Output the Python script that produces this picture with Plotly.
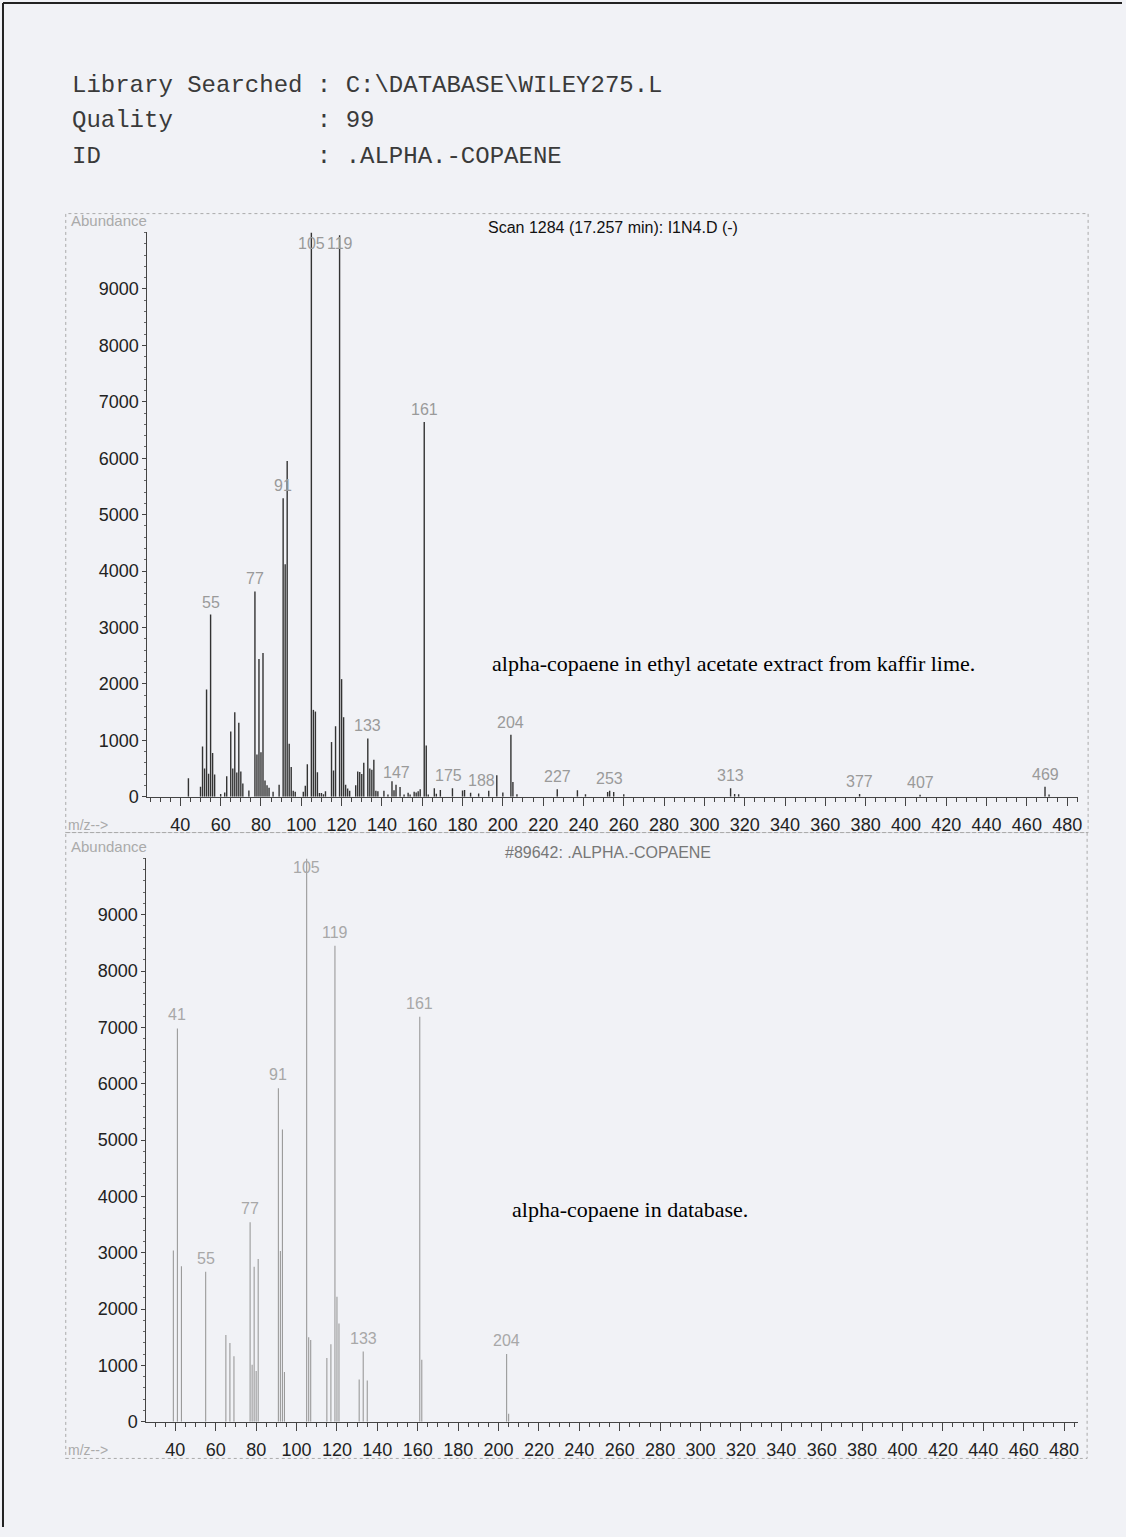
import plotly.graph_objects as go

W, H = 1126, 1537

# ---------------- data ----------------
sample_mz = [44, 50, 51, 52, 53, 54, 55, 56, 57, 60, 62, 63, 65, 66, 67, 68, 69, 70, 71, 74,
             77, 78, 79, 80, 81, 82, 83, 84, 86, 89, 91, 92, 93, 94, 95, 96, 97, 101, 102, 103,
             105, 106, 107, 108, 109, 110, 111, 112, 115, 116, 117, 119, 120, 121, 122, 123, 124,
             127, 128, 129, 130, 131, 133, 134, 135, 136, 137, 138, 141, 143, 145, 146, 147, 149,
             151, 153, 154, 156, 157, 158, 159, 161, 162, 163, 166, 167, 169, 175, 180, 181, 184,
             188, 193, 197, 200, 204, 205, 207, 227, 237, 241, 252, 253, 255, 260, 313, 315, 317,
             377, 407, 469, 471]
sample_abund = [330, 176, 890, 500, 1900, 410, 3230, 775, 395, 50, 75, 365, 1155, 500, 1500, 430, 1310, 450, 235, 110,
                3640, 750, 2440, 790, 2550, 290, 205, 160, 90, 215, 5290, 4120, 5950, 940, 530, 105, 90, 90, 195, 575,
                10000, 1540, 1510, 435, 65, 65, 47, 100, 970, 465, 1250, 9950, 2085, 1410, 215, 145, 105,
                205, 450, 440, 405, 605, 1035, 500, 480, 655, 105, 100, 105, 40, 275, 115, 215, 175,
                40, 70, 40, 90, 75, 100, 135, 6640, 910, 40, 150, 55, 120, 150, 110, 120, 70,
                60, 105, 380, 75, 1100, 260, 45, 135, 115, 45, 85, 105, 85, 45, 150, 50, 45,
                50, 35, 180, 40]
sample_labels = [55, 77, 91, 105, 119, 133, 147, 161, 175, 188, 204, 227, 253, 313, 377, 407, 469]

db_mz = [39, 41, 43, 55, 65, 67, 69, 77, 78, 79, 80, 81, 91, 92, 93, 94, 105, 106, 107,
         115, 117, 119, 120, 121, 131, 133, 135, 161, 162, 204, 205]
db_abund = [3040, 6980, 2760, 2660, 1540, 1395, 1160, 3540, 1010, 2750, 900, 2890, 5920, 3030, 5185, 880,
            9999, 1500, 1450, 1130, 1375, 8450, 2220, 1745, 750, 1245, 730, 7190, 1100, 1200, 140]
db_labels = [41, 55, 77, 91, 105, 119, 133, 161, 204]

y_tick_vals = [0, 1000, 2000, 3000, 4000, 5000, 6000, 7000, 8000, 9000]
x_tick_vals = list(range(40, 481, 20))

header_lines = ["Library Searched : C:\\DATABASE\\WILEY275.L",
                "Quality          : 99",
                "ID               : .ALPHA.-COPAENE"]
title_sample = "Scan 1284 (17.257 min): I1N4.D (-)"
title_db = "#89642: .ALPHA.-COPAENE"
note_sample = "alpha-copaene in ethyl acetate extract from kaffir lime."
note_db = "alpha-copaene in database."

# ---------------- helpers ----------------
def fx(x):
    return x / W

def fy(y):
    return 1 - y / H

def sticks(mz, ab):
    xs, ys = [], []
    for m, a in zip(mz, ab):
        xs += [m, m, None]
        ys += [0, a, None]
    return xs, ys

SANS = "Liberation Sans, Arial, sans-serif"
PAPER = "#f1f2f6"

fig = go.Figure()

sx, sy = sticks(sample_mz, sample_abund)
fig.add_trace(go.Scatter(x=sx, y=sy, mode="lines", line=dict(color="#333333", width=1.4),
                         xaxis="x", yaxis="y", hoverinfo="skip", showlegend=False))
dx, dy = sticks(db_mz, db_abund)
fig.add_trace(go.Scatter(x=dx, y=dy, mode="lines", line=dict(color="#9a9a9a", width=1.1),
                         xaxis="x2", yaxis="y2", hoverinfo="skip", showlegend=False))

def xaxis_cfg(domain, rng, anchor):
    return dict(domain=domain, range=rng, anchor=anchor, showline=True, linecolor="#444",
                linewidth=1, showgrid=False, zeroline=False, ticks="outside", ticklen=8,
                tickcolor="#444", tickwidth=1, tickvals=x_tick_vals, ticklabelstandoff=4,
                tickfont=dict(family=SANS, size=18, color="#222"),
                minor=dict(dtick=5, tick0=0, ticks="outside", ticklen=4, tickcolor="#444",
                           showgrid=False),
                fixedrange=True)

def yaxis_cfg(domain, anchor):
    return dict(domain=domain, range=[0, 10000], anchor=anchor, showline=True, linecolor="#444",
                linewidth=1, showgrid=False, zeroline=False, ticks="outside", ticklen=4,
                tickcolor="#444", tickwidth=1, tickvals=y_tick_vals,
                tickfont=dict(family=SANS, size=18, color="#222"),
                minor=dict(dtick=200, tick0=0, ticks="outside", ticklen=2, tickcolor="#666",
                           showgrid=False),
                fixedrange=True)

# top panel: 40 at px 181, 2.0227 px/unit, axis from px 148 to 1082; y: 0 at 802, 10000 at 234
top_lo = 40 - (181 - 148) / 2.0227
top_hi = 40 + (1082 - 181) / 2.0227
# bottom panel: 40 at px 176, 2.027 px/unit, axis from 147 to 1082; y: 0 at 1431, 10000 at 864
bot_lo = 40 - (176 - 147) / 2.027
bot_hi = 40 + (1082 - 176) / 2.027

fig.update_layout(
    width=W, height=H, autosize=False,
    margin=dict(l=0, r=0, t=0, b=0),
    paper_bgcolor=PAPER, plot_bgcolor=PAPER,
    xaxis=xaxis_cfg([fx(148), fx(1082)], [top_lo, top_hi], "y"),
    yaxis=yaxis_cfg([fy(802), fy(234)], "x"),
    xaxis2=xaxis_cfg([fx(147), fx(1082)], [bot_lo, bot_hi], "y2"),
    yaxis2=yaxis_cfg([fy(1431), fy(864)], "x2"),
)

label_xshift = {175: -4, 188: 3}

ann = []
# peak labels
for m in sample_labels:
    a = sample_abund[sample_mz.index(m)]
    ann.append(dict(x=m, y=min(a, 9580), xref="x", yref="y", text=str(m), showarrow=False,
                    yanchor="bottom", yshift=2, xshift=label_xshift.get(m, 0),
                    font=dict(family=SANS, size=16, color="#9a9a9a")))
for m in db_labels:
    a = db_abund[db_mz.index(m)]
    ann.append(dict(x=m, y=min(a, 9600), xref="x2", yref="y2", text=str(m), showarrow=False,
                    yanchor="bottom", yshift=3, font=dict(family=SANS, size=16, color="#a8a8a8")))

# header
for i, line in enumerate(header_lines):
    ann.append(dict(x=fx(70), y=fy([86, 121, 158][i]), xref="paper", yref="paper",
                    text=line.replace(" ", "\u00a0"), showarrow=False, xanchor="left", yanchor="middle",
                    font=dict(family="Liberation Mono, Courier New, monospace", size=24, color="#3a3a3a")))

# panel titles and labels
ann.append(dict(x=fx(615), y=fy(229), xref="paper", yref="paper", text=title_sample, showarrow=False,
                xanchor="center", yanchor="middle", font=dict(family=SANS, size=16, color="#111")))
ann.append(dict(x=fx(610), y=fy(858), xref="paper", yref="paper", text=title_db, showarrow=False,
                xanchor="center", yanchor="middle", font=dict(family=SANS, size=16, color="#777")))
for yy in (222, 852):
    ann.append(dict(x=fx(69), y=fy(yy), xref="paper", yref="paper", text="Abundance", showarrow=False,
                    xanchor="left", yanchor="middle", font=dict(family=SANS, size=15, color="#aaa")))
for yy in (830, 1459):
    ann.append(dict(x=fx(66), y=fy(yy), xref="paper", yref="paper", text="m/z-->", showarrow=False,
                    xanchor="left", yanchor="middle", font=dict(family=SANS, size=14, color="#aaa")))

ann.append(dict(x=fx(492), y=fy(668), xref="paper", yref="paper", text=note_sample, showarrow=False,
                xanchor="left", yanchor="middle",
                font=dict(family="Liberation Serif, Times New Roman, serif", size=22, color="#000")))
ann.append(dict(x=fx(512), y=fy(1217), xref="paper", yref="paper", text=note_db, showarrow=False,
                xanchor="left", yanchor="middle",
                font=dict(family="Liberation Serif, Times New Roman, serif", size=22, color="#000")))

fig.update_layout(annotations=ann)

shapes = [
    # dotted panel frames
    dict(type="rect", xref="paper", yref="paper", x0=fx(66), x1=fx(1092), y0=fy(838), y1=fy(215),
         line=dict(color="#aaa", width=1, dash="dot")),
    dict(type="rect", xref="paper", yref="paper", x0=fx(66), x1=fx(1091), y0=fy(1468), y1=fy(838),
         line=dict(color="#aaa", width=1, dash="dot")),
    # page edges
    dict(type="line", xref="paper", yref="paper", x0=fx(3), x1=fx(3), y0=0, y1=fy(3),
         line=dict(color="#222", width=2)),
    dict(type="line", xref="paper", yref="paper", x0=fx(3), x1=1, y0=fy(3), y1=fy(3),
         line=dict(color="#222", width=2)),
]
fig.update_layout(shapes=shapes)

fig.write_html("out.html")
